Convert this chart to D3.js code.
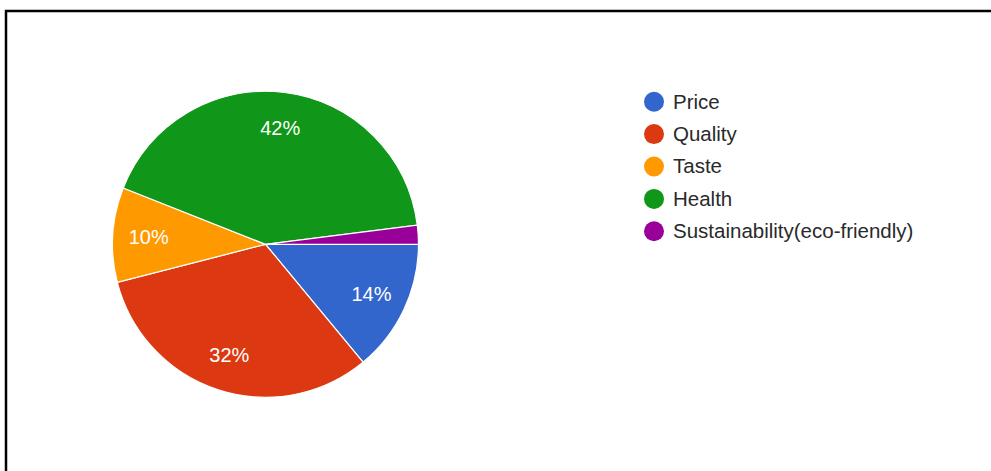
<!DOCTYPE html>
<html>
<head>
<meta charset="utf-8">
<script src="https://cdn.jsdelivr.net/npm/d3@7/dist/d3.min.js"></script>
<style>
  html, body { margin: 0; padding: 0; background: #fff; }
  svg { display: block; }
  text { font-family: "Liberation Sans", Arial, sans-serif; }
</style>
</head>
<body>
<svg id="chart" width="991" height="471"></svg>
<script>
// Survey answers: what matters most when choosing a product
const categories = ["Price", "Quality", "Taste", "Health", "Sustainability(eco-friendly)"];
const values = [14, 32, 10, 42, 2];
const colors = ["#3366cc", "#dc3912", "#ff9900", "#109618", "#990099"];

const svg = d3.select("#chart");

// Frame around the chart area
svg.append("rect")
  .attr("x", 6).attr("y", 11)
  .attr("width", 1000).attr("height", 500)
  .attr("fill", "none")
  .attr("stroke", "#000")
  .attr("stroke-width", 2.5);

const cx = 265.5, cy = 244.3, radius = 153;
const data = categories.map((c, i) => ({ name: c, value: values[i], color: colors[i] }));

// Slices start at 3 o'clock and run clockwise
const pie = d3.pie()
  .value(d => d.value)
  .sort(null)
  .startAngle(Math.PI / 2)
  .endAngle(Math.PI / 2 + 2 * Math.PI);

const arc = d3.arc().innerRadius(0).outerRadius(radius);
const labelArc = d3.arc().innerRadius(radius * 0.765).outerRadius(radius * 0.765);

const g = svg.append("g").attr("transform", `translate(${cx},${cy})`);
const arcs = pie(data);

g.selectAll("path.slice")
  .data(arcs)
  .join("path")
  .attr("class", "slice")
  .attr("d", arc)
  .attr("fill", d => d.data.color)
  .attr("stroke", "#fff")
  .attr("stroke-width", 1.2);

g.selectAll("text.pct")
  .data(arcs.filter(d => d.data.value >= 5))
  .join("text")
  .attr("class", "pct")
  .attr("transform", d => `translate(${labelArc.centroid(d)})`)
  .attr("text-anchor", "middle")
  .attr("dy", "0.34em")
  .attr("fill", "#fff")
  .attr("font-size", 20)
  .text(d => d.data.value + "%");

// Legend
const legend = svg.append("g").attr("transform", "translate(654,101.7)");
const rowStep = 32.4;
const rows = legend.selectAll("g.row")
  .data(data)
  .join("g")
  .attr("class", "row")
  .attr("transform", (d, i) => `translate(0,${i * rowStep})`);

rows.append("circle")
  .attr("r", 10)
  .attr("fill", d => d.color);

rows.append("text")
  .attr("x", 19)
  .attr("dy", "0.34em")
  .attr("font-size", 20.5)
  .attr("fill", "#2a2a2a")
  .text(d => d.name);
</script>
</body>
</html>
